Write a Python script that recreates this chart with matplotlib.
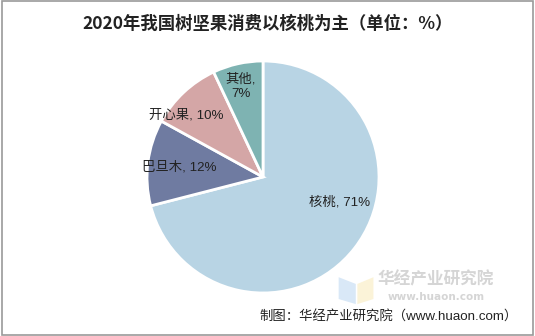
import matplotlib
matplotlib.use("Agg")
import matplotlib.pyplot as plt
from matplotlib.patches import Rectangle, Polygon

plt.rcParams['font.family'] = ['Noto Sans CJK SC', 'DejaVu Sans']
LAB_FONT = ['Liberation Sans', 'Noto Sans CJK SC']

categories = ['核桃', '巴旦木', '开心果', '其他']
values = [71, 12, 10, 7]
labels = ['核桃, 71%', '巴旦木, 12%', '开心果, 10%', '其他,\n7%']
colors = ['#b8d4e4', '#6f7ba1', '#d4a6a6', '#7eb3b2']
label_pos = [(0.66, -0.22), (-0.72, 0.08), (-0.66, 0.535), (-0.19, 0.78)]

fig = plt.figure(figsize=(5.35, 3.36), dpi=100)
fig.patch.set_facecolor('white')
fig.add_artist(Rectangle((0.004, 0.004), 0.992, 0.992, transform=fig.transFigure,
                         fill=False, edgecolor='#9a9a9a', linewidth=1.2))

ax = fig.add_axes([0.2748, 0.128, 0.4336, 0.6905])
ax.pie(values, colors=colors, startangle=90, counterclock=False,
       wedgeprops=dict(edgecolor='white', linewidth=2))
ax.set_xlim(-1.0, 1.0)
ax.set_ylim(-1.0, 1.0)
ax.set_aspect('equal')
for lab, (x, y) in zip(labels, label_pos):
    ax.text(x, y, lab, ha='center', va='center', fontsize=9.6, color='#222222',
            linespacing=1.2, family=LAB_FONT)

fig.text(0.5, 0.928, '2020年我国树坚果消费以核桃为主（单位：%）', ha='center', va='center',
         fontsize=12.5, fontweight='bold', color='#222222')

# watermark
fig.add_artist(Polygon([(0.633, 0.175), (0.665, 0.155), (0.665, 0.095), (0.633, 0.11)],
                       closed=True, transform=fig.transFigure, facecolor='#d9e8f7', edgecolor='none'))
fig.add_artist(Polygon([(0.668, 0.155), (0.698, 0.175), (0.698, 0.11), (0.668, 0.095)],
                       closed=True, transform=fig.transFigure, facecolor='#fbf3d8', edgecolor='none'))
fig.text(0.815, 0.168, '华经产业研究院', ha='center', va='center', fontsize=12,
         fontweight='bold', color='#d5d5d5')
fig.text(0.815, 0.117, 'www.huaon.com', ha='center', va='center', fontsize=7.5,
         fontweight='bold', color='#d5d5d5', family='DejaVu Sans')

fig.text(0.968, 0.055, '制图：华经产业研究院（www.huaon.com）', ha='right', va='center',
         fontsize=9.6, color='#222222', family=LAB_FONT)

fig.savefig('out.png', dpi=100, facecolor='white')
